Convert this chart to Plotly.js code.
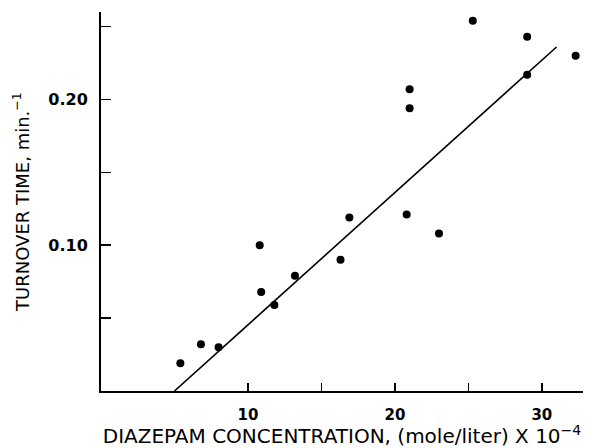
<!DOCTYPE html>
<html>
<head>
<meta charset="utf-8">
<script src="https://cdn.plot.ly/plotly-3.0.1.min.js"></script>
<style>html,body{margin:0;padding:0;background:#fff;}#chart{width:599px;height:448px;}</style>
</head>
<body>
<div id="chart"></div>
<script>
// Observed data points
const concentration = [5.4, 6.8, 8.0, 10.8, 10.9, 11.8, 13.2, 16.3, 16.9, 20.8, 21.0, 21.0, 23.0, 25.3, 29.0, 29.0, 32.3];
const turnover = [0.019, 0.032, 0.030, 0.100, 0.068, 0.059, 0.079, 0.090, 0.119, 0.121, 0.207, 0.194, 0.108, 0.254, 0.243, 0.217, 0.230];
// Fitted regression line end points
const fitX = [5.0, 31.0];
const fitY = [0.0, 0.236];
// Tick values and labels
const xTickVals = [10, 15, 20, 25, 30];
const xTickText = ['10', '', '20', '', '30'];
const yTickVals = [0.05, 0.10, 0.15, 0.20, 0.25];
const yTickText = ['', '0.10', '', '0.20', ''];

const traces = [
  {x: fitX, y: fitY, mode: 'lines', line: {color: '#000', width: 1.6}, hoverinfo: 'skip', showlegend: false},
  {x: concentration, y: turnover, mode: 'markers', marker: {color: '#000', size: 8}, showlegend: false}
];

const layout = {
  width: 599, height: 448,
  margin: {l: 101, r: 16, t: 12, b: 57, pad: 0},
  paper_bgcolor: '#fff', plot_bgcolor: '#fff',
  showlegend: false,
  font: {family: 'DejaVu Sans, sans-serif', color: '#000'},
  xaxis: {
    range: [0, 32.8], showgrid: false, zeroline: false,
    showline: true, linecolor: '#000', linewidth: 2,
    ticks: 'inside', ticklen: 8, tickwidth: 1.5, tickcolor: '#000',
    tickvals: xTickVals, ticktext: xTickText, ticklabelstandoff: 9,
    tickfont: {family: 'DejaVu Sans, sans-serif', size: 15, color: '#000', weight: 'bold'},
    title: {text: 'DIAZEPAM CONCENTRATION, (mole/liter) X 10<sup>−4</sup>', font: {family: 'DejaVu Sans, sans-serif', size: 20, color: '#000'}, standoff: 5}
  },
  yaxis: {
    range: [0, 0.26], showgrid: false, zeroline: false,
    showline: true, linecolor: '#000', linewidth: 2,
    ticks: 'inside', ticklen: 10, tickwidth: 1.5, tickcolor: '#000',
    tickvals: yTickVals, ticktext: yTickText, ticklabelstandoff: 8,
    tickfont: {family: 'DejaVu Sans, sans-serif', size: 16, color: '#000', weight: 'bold'},
    title: {text: 'TURNOVER TIME, min.<sup>−1</sup>', font: {family: 'DejaVu Sans, sans-serif', size: 18, color: '#000'}, standoff: 14}
  }
};

Plotly.newPlot('chart', traces, layout, {staticPlot: true, displayModeBar: false});
</script>
</body>
</html>
